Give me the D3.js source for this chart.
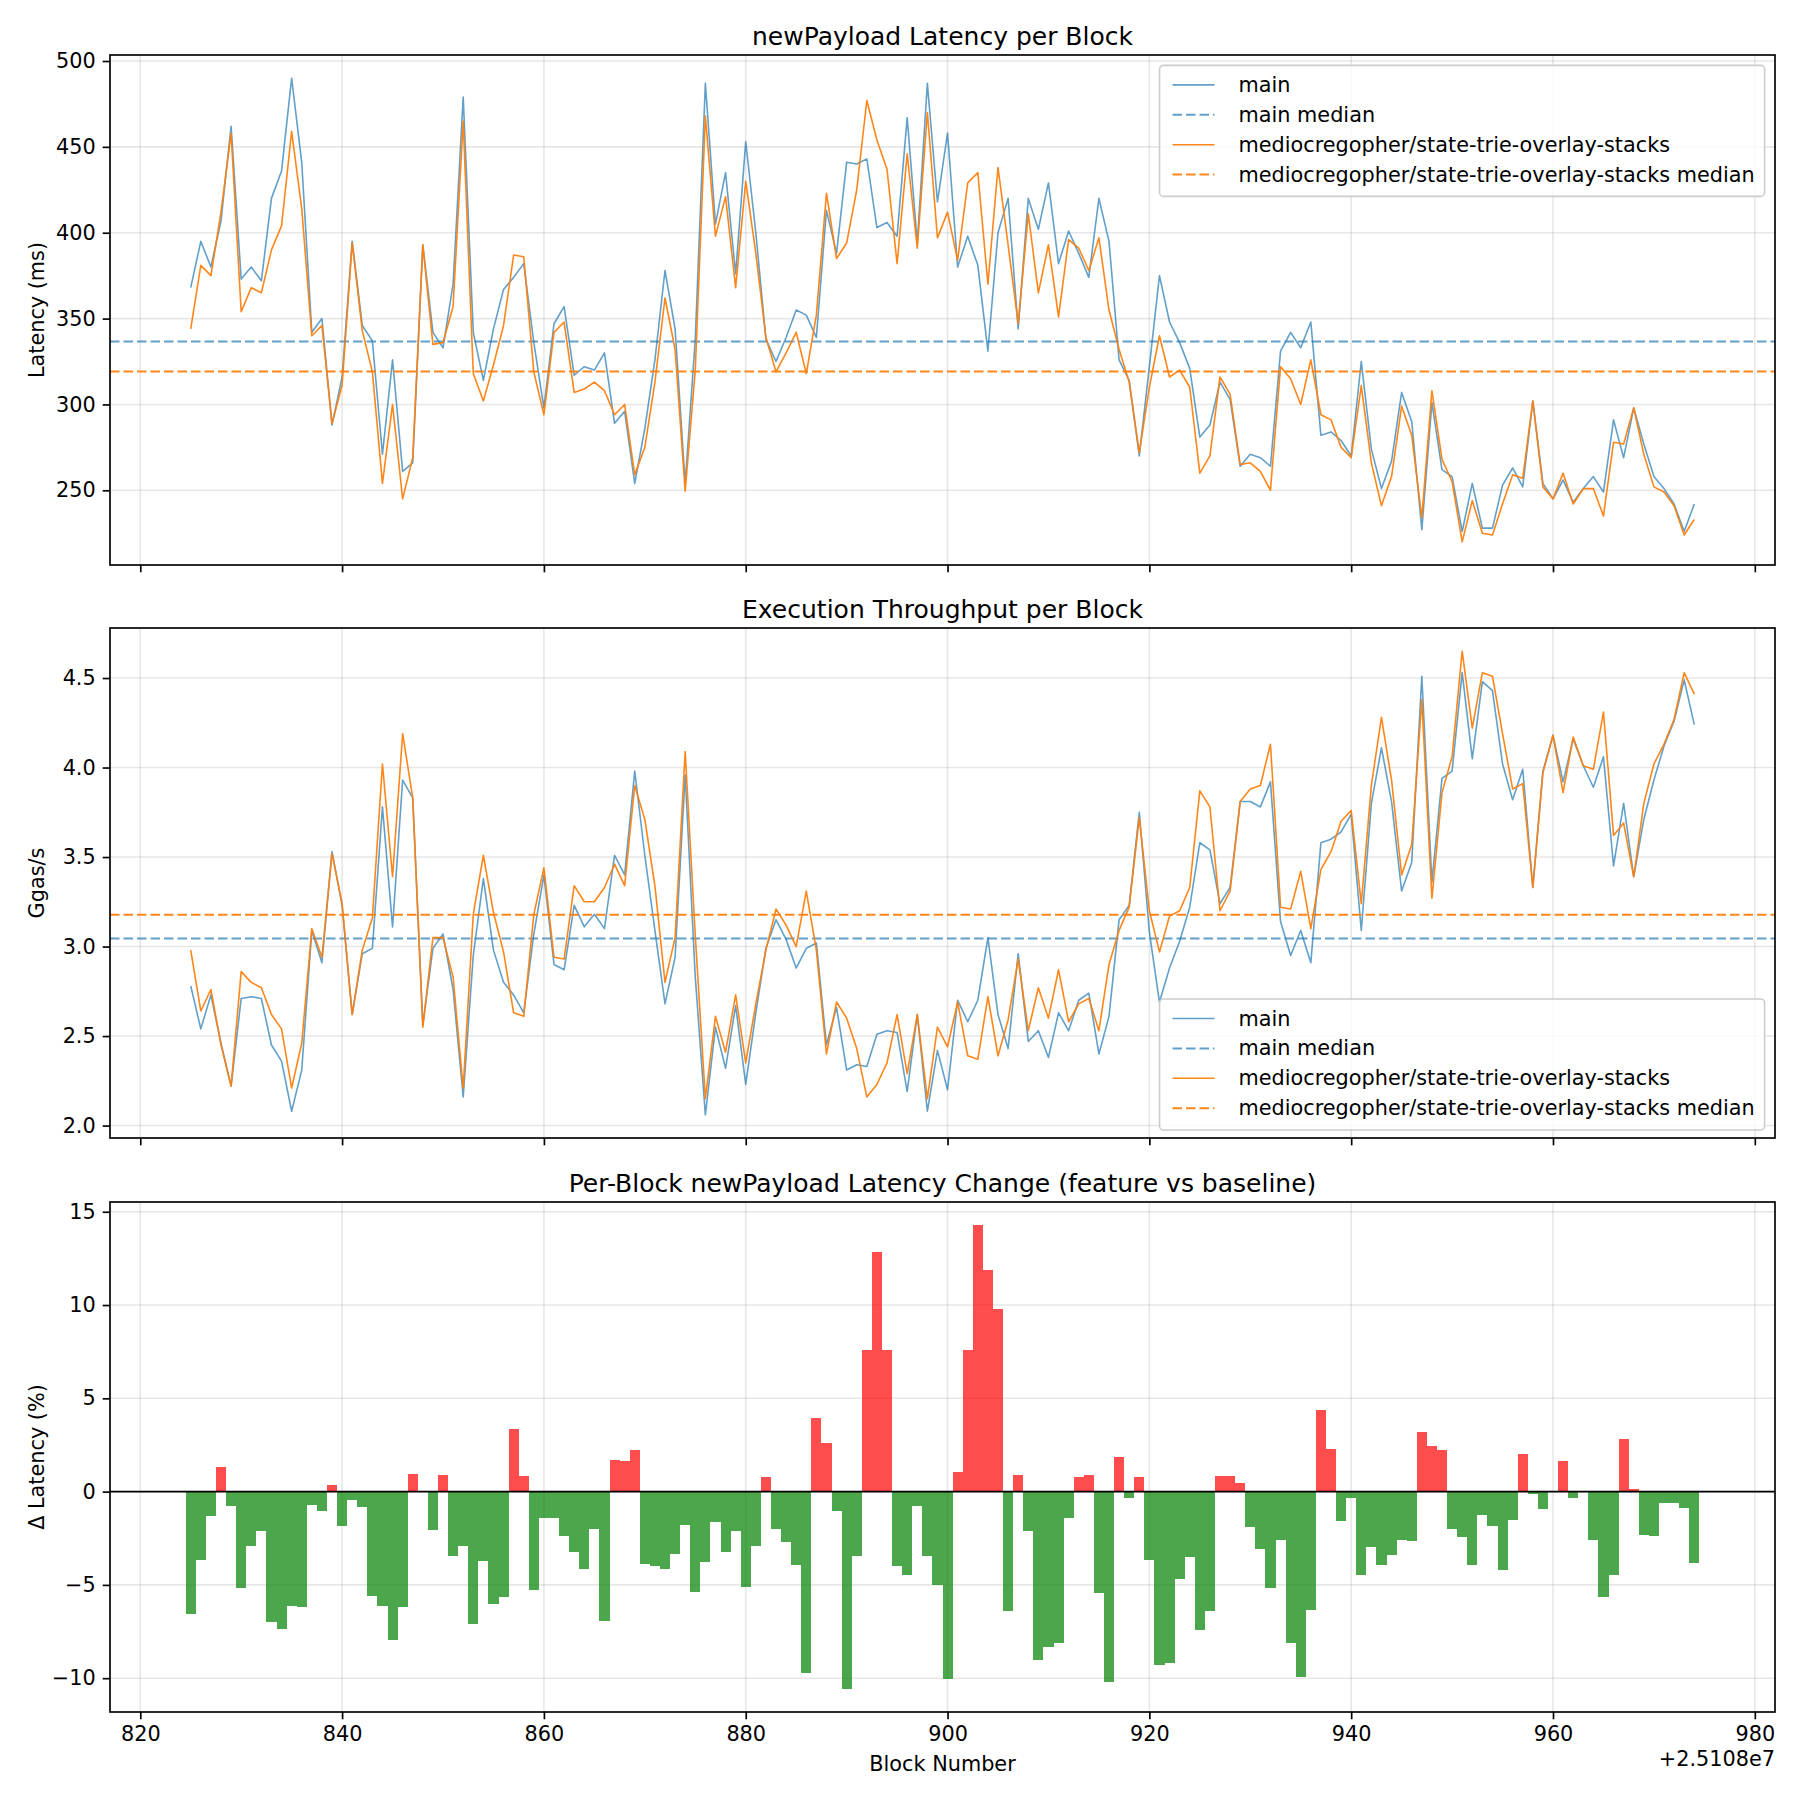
<!DOCTYPE html>
<html>
<head>
<meta charset="utf-8">
<script src="https://cdn.jsdelivr.net/npm/d3@7"></script>
<style>
  body { margin: 0; background: #fff; }
  svg { font-family: "DejaVu Sans", sans-serif; }
</style>
</head>
<body>
<div id="chart"></div>
<script>
// block numbers (x offset shown as +2.5108e7 like the original)
const blockOffset = 25108000;
const blocks = d3.range(25108825, 25108975);

// newPayload latency per block (ms)
const mainLatency = [368,395,380,407,462,373,380,372,420,436,490,441,342,350,288,316,395,346,337,271,
  326,261,266,393,342,333,370,479,342,314,344,367,374,382,336,298,347,357,317,322,
  320,330,289,296,254,286,326,378,344,254,338,487,405,435,376,453,400,338,325,339,
  355,352,339,413,388,441,440,443,403,406,398,467,394,487,418,458,380,398,381,331,
  400,420,344,420,402,429,382,401,388,374,420,395,326,314,270,322,375,348,336,321,
  281,288,313,303,264,271,269,264,331,342,333,348,282,284,279,270,325,274,251,267,
  307,290,227,301,262,258,226,254,228,228,253,263,252,302,254,245,256,243,251,258,
  249,291,269,298,277,258,251,242,226,242];
const featureLatency = [344,381,375,412,458,354,368,365,390,404,459,414,340,346,289,311,394,343,319,254,
  300,245,269,393,335,336,357,465,318,302,323,346,387,386,319,294,342,348,307,309,
  313,308,294,300,259,275,313,362,332,249.5,320,468,398,421,368,430,388,339,319,330,
  342,318,352,423,385,394,425,477,454,437,382,446,391,470,397,412,384,429,435,370,
  438,393,347,411,365,393,351,396,391,378,397,355,332,313,272,310,340,316,320,310,
  260,270,316,306,265,266,261,250,322,315,300,326,294,291,275,269,311,266,241,258,
  299,282,234,308,268,255,220,244,225,224,242,259,257,302,252,245,260,242,251,251,
  235,278,277,298,271,252,249,241,224,233];
const mainLatencyMedian = 336.6;
const featureLatencyMedian = 319.2;

// execution throughput per block (Ggas/s)
const mainThroughput = [2.78,2.54,2.73,2.46,2.22,2.71,2.72,2.71,2.45,2.36,2.08,2.31,3.09,2.91,3.53,3.23,2.62,2.96,2.99,3.78,
  3.11,3.93,3.83,2.56,2.99,3.07,2.76,2.16,2.95,3.38,2.98,2.80,2.73,2.63,3.07,3.40,2.90,2.87,3.23,3.11,
  3.18,3.10,3.51,3.40,3.98,3.51,3.09,2.68,2.94,3.96,2.83,2.06,2.55,2.32,2.67,2.23,2.63,2.99,3.15,3.04,
  2.88,2.99,3.02,2.45,2.66,2.31,2.34,2.33,2.51,2.53,2.52,2.19,2.62,2.08,2.42,2.20,2.70,2.58,2.70,3.05,
  2.62,2.43,2.96,2.47,2.53,2.38,2.63,2.53,2.70,2.74,2.40,2.61,3.15,3.23,3.75,3.08,2.69,2.88,3.03,3.22,
  3.58,3.54,3.24,3.33,3.81,3.81,3.78,3.92,3.14,2.95,3.09,2.91,3.58,3.60,3.64,3.74,3.09,3.80,4.11,3.81,
  3.31,3.47,4.51,3.36,3.94,3.98,4.53,4.05,4.48,4.43,4.02,3.82,3.99,3.33,3.98,4.18,3.92,4.16,4.01,3.89,
  4.06,3.45,3.80,3.39,3.71,3.93,4.12,4.26,4.49,4.24];
const featureThroughput = [2.98,2.64,2.76,2.45,2.22,2.86,2.80,2.77,2.62,2.54,2.21,2.46,3.10,2.94,3.52,3.24,2.62,2.98,3.16,4.02,
  3.39,4.19,3.83,2.55,3.05,3.05,2.83,2.21,3.18,3.51,3.19,2.97,2.63,2.61,3.18,3.44,2.94,2.93,3.34,3.25,
  3.25,3.33,3.46,3.34,3.90,3.71,3.34,2.80,3.05,4.09,3.06,2.15,2.61,2.41,2.73,2.35,2.68,2.98,3.21,3.12,
  3.00,3.31,2.98,2.40,2.69,2.60,2.43,2.16,2.23,2.35,2.62,2.29,2.62,2.15,2.55,2.44,2.69,2.39,2.37,2.72,
  2.39,2.59,2.93,2.53,2.77,2.60,2.87,2.58,2.68,2.71,2.53,2.90,3.09,3.22,3.72,3.20,2.97,3.17,3.20,3.33,
  3.87,3.78,3.20,3.31,3.81,3.88,3.90,4.13,3.22,3.21,3.42,3.10,3.43,3.53,3.70,3.76,3.24,3.90,4.28,3.93,
  3.40,3.57,4.38,3.27,3.86,4.06,4.65,4.22,4.53,4.51,4.19,3.88,3.91,3.33,3.97,4.18,3.86,4.17,4.01,3.99,
  4.31,3.62,3.69,3.39,3.80,4.02,4.13,4.27,4.53,4.41];
const mainThroughputMedian = 3.045;
const featureThroughputMedian = 3.177;

// per-block latency change (%)
const latencyChange = [-6.55,-3.69,-1.29,1.34,-0.79,-5.19,-2.90,-2.09,-7.01,-7.35,-6.15,-6.21,-0.70,-1.06,0.38,-1.82,-0.43,-0.84,-5.62,-6.12,
  -7.98,-6.21,0.97,0.0,-2.08,0.91,-3.47,-2.93,-7.08,-3.70,-6.05,-5.67,3.38,0.86,-5.26,-1.41,-1.41,-2.40,-3.26,-4.17,
  -2.00,-6.91,1.72,1.66,2.25,-3.86,-4.01,-4.17,-3.33,-1.77,-5.37,-3.79,-1.61,-3.26,-2.09,-5.13,-2.90,0.80,-1.99,-2.72,
  -3.92,-9.70,3.95,2.58,-1.02,-10.57,-3.47,7.60,12.83,7.60,-4.01,-4.45,-0.75,-3.47,-5.03,-10.04,1.07,7.60,14.28,11.86,
  9.77,-6.42,0.91,-2.13,-9.05,-8.35,-8.09,-1.43,0.77,0.91,-5.46,-10.18,1.84,-0.36,0.77,-3.69,-9.32,-9.21,-4.69,-3.52,
  -7.44,-6.42,0.86,0.86,0.48,-1.91,-3.09,-5.19,-2.61,-8.14,-9.91,-6.33,4.40,2.31,-1.59,-0.36,-4.49,-2.95,-3.95,-3.38,
  -2.58,-2.67,3.22,2.47,2.25,-1.99,-2.45,-3.95,-1.23,-1.82,-4.22,-1.50,2.04,-0.13,-0.95,0.0,1.66,-0.36,0.0,-2.58,
  -5.67,-4.49,2.84,0.16,-2.34,-2.40,-0.63,-0.63,-0.89,-3.85];

// tick labels
const xTicks = d3.range(25108820, 25108981, 20);
const latencyTicks = [250, 300, 350, 400, 450, 500];
const throughputTicks = [2.0, 2.5, 3.0, 3.5, 4.0, 4.5];
const changeTicks = [-10, -5, 0, 5, 10, 15];

const seriesNames = ["main", "mediocregopher/state-trie-overlay-stacks"];
const blue = "#1f77b4", orange = "#ff7f0e";

const W = 1800, H = 1800;
const left = 110, right = 1775, panelH = 510;
const panelTops = [55, 628, 1202];
const fontSize = 20.8, titleSize = 25;

const svg = d3.select("#chart").append("svg")
    .attr("width", W)
    .attr("height", H);

svg.append("rect").attr("width", W).attr("height", H).attr("fill", "#fff");

// matplotlib style 5% margins
function padded(lo, hi) {
    let p = (hi - lo) * 0.05;
    return [lo - p, hi + p];
}

const x = d3.scaleLinear()
    .domain(padded(d3.min(blocks) - 0.5, d3.max(blocks) + 0.5))
    .range([left, right]);

const minus = d => (d < 0 ? "\u2212" + Math.abs(d) : "" + d);

function makePanel(top, y, yTicks, yFmt, title, ylabel, showXLabels) {
    let g = svg.append("g");
    let bottom = top + panelH;

    // grid
    g.append("g").selectAll("line").data(xTicks).enter().append("line")
        .attr("x1", d => x(d)).attr("x2", d => x(d))
        .attr("y1", top).attr("y2", bottom)
        .attr("stroke", "#b0b0b0").attr("stroke-opacity", 0.3).attr("stroke-width", 1.6);
    g.append("g").selectAll("line").data(yTicks).enter().append("line")
        .attr("x1", left).attr("x2", right)
        .attr("y1", d => y(d)).attr("y2", d => y(d))
        .attr("stroke", "#b0b0b0").attr("stroke-opacity", 0.3).attr("stroke-width", 1.6);

    let plot = g.append("g");

    // y axis
    let yAxis = d3.axisLeft(y).tickValues(yTicks).tickFormat(yFmt)
        .tickSize(7.3).tickPadding(7).tickSizeOuter(0);
    let ya = g.append("g").attr("transform", `translate(${left},0)`).call(yAxis);
    ya.select(".domain").remove();
    ya.selectAll("line").attr("stroke", "#000").attr("stroke-width", 1.67);
    ya.selectAll("text").attr("font-size", fontSize).attr("fill", "#000")
        .attr("font-family", "DejaVu Sans");

    // x axis
    let xAxis = d3.axisBottom(x).tickValues(xTicks).tickFormat(d => showXLabels ? (d - blockOffset) : "")
        .tickSize(7.3).tickPadding(7).tickSizeOuter(0);
    let xa = g.append("g").attr("transform", `translate(0,${bottom})`).call(xAxis);
    xa.select(".domain").remove();
    xa.selectAll("line").attr("stroke", "#000").attr("stroke-width", 1.67);
    xa.selectAll("text").attr("font-size", fontSize).attr("fill", "#000")
        .attr("font-family", "DejaVu Sans");

    // spines
    g.append("rect")
        .attr("x", left).attr("y", top)
        .attr("width", right - left).attr("height", panelH)
        .attr("fill", "none").attr("stroke", "#000").attr("stroke-width", 1.67);

    g.append("text")
        .attr("x", (left + right) / 2).attr("y", top - 10)
        .attr("text-anchor", "middle")
        .attr("font-size", titleSize)
        .text(title);

    g.append("text")
        .attr("transform", `translate(37,${top + panelH / 2}) rotate(-90)`)
        .attr("text-anchor", "middle")
        .attr("dominant-baseline", "central")
        .attr("font-size", fontSize)
        .text(ylabel);

    return plot;
}

function drawLines(plot, y, mainVals, featVals, mainMed, featMed) {
    let line = d3.line()
        .x((d, i) => x(blocks[i]))
        .y(d => y(d));

    plot.append("path").datum(mainVals)
        .attr("d", line).attr("fill", "none")
        .attr("stroke", blue).attr("stroke-opacity", 0.7).attr("stroke-width", 1.6)
        .attr("stroke-linejoin", "round");
    plot.append("line")
        .attr("x1", left).attr("x2", right)
        .attr("y1", y(mainMed)).attr("y2", y(mainMed))
        .attr("stroke", blue).attr("stroke-opacity", 0.7).attr("stroke-width", 2)
        .attr("stroke-dasharray", "9.5,4");
    plot.append("path").datum(featVals)
        .attr("d", line).attr("fill", "none")
        .attr("stroke", orange).attr("stroke-opacity", 0.95).attr("stroke-width", 1.6)
        .attr("stroke-linejoin", "round");
    plot.append("line")
        .attr("x1", left).attr("x2", right)
        .attr("y1", y(featMed)).attr("y2", y(featMed))
        .attr("stroke", orange).attr("stroke-opacity", 0.95).attr("stroke-width", 2)
        .attr("stroke-dasharray", "9.5,4");
}

function drawLegend(boxTop) {
    let labels = [seriesNames[0], seriesNames[0] + " median", seriesNames[1], seriesNames[1] + " median"];
    let styles = [[blue, 0.7, null], [blue, 0.7, "9.5,4"], [orange, 0.95, null], [orange, 0.95, "9.5,4"]];
    let g = svg.append("g");
    let box = g.append("rect");
    let texts = [];
    labels.forEach((lab, i) => {
        let t = g.append("text")
            .attr("y", boxTop + 19.5 + i * 29.9)
            .attr("dominant-baseline", "central")
            .attr("font-size", fontSize)
            .text(lab);
        texts.push(t);
    });
    let textW = d3.max(texts, t => t.node().getComputedTextLength());
    let boxW = 13 + 42 + 24 + textW + 10;
    let boxX = right - 10.4 - boxW;
    box.attr("x", boxX).attr("y", boxTop)
        .attr("width", boxW).attr("height", 131)
        .attr("rx", 4).attr("ry", 4)
        .attr("fill", "#fff").attr("fill-opacity", 0.8)
        .attr("stroke", "#cccccc").attr("stroke-width", 1.6);
    texts.forEach((t, i) => {
        t.attr("x", boxX + 79);
        let yy = boxTop + 19.5 + i * 29.9;
        g.append("line")
            .attr("x1", boxX + 13).attr("x2", boxX + 55)
            .attr("y1", yy).attr("y2", yy)
            .attr("stroke", styles[i][0]).attr("stroke-opacity", styles[i][1])
            .attr("stroke-width", styles[i][2] ? 2 : 1.6)
            .attr("stroke-dasharray", styles[i][2]);
    });
}

// panel 1: latency
let yLat = d3.scaleLinear()
    .domain(padded(d3.min(mainLatency.concat(featureLatency)), d3.max(mainLatency.concat(featureLatency))))
    .range([panelTops[0] + panelH, panelTops[0]]);
let p1 = makePanel(panelTops[0], yLat, latencyTicks, d => d, "newPayload Latency per Block", "Latency (ms)", false);
drawLines(p1, yLat, mainLatency, featureLatency, mainLatencyMedian, featureLatencyMedian);
drawLegend(panelTops[0] + 10.4);

// panel 2: throughput
let yTp = d3.scaleLinear()
    .domain(padded(d3.min(mainThroughput.concat(featureThroughput)), d3.max(mainThroughput.concat(featureThroughput))))
    .range([panelTops[1] + panelH, panelTops[1]]);
let p2 = makePanel(panelTops[1], yTp, throughputTicks, d3.format(".1f"), "Execution Throughput per Block", "Ggas/s", false);
drawLines(p2, yTp, mainThroughput, featureThroughput, mainThroughputMedian, featureThroughputMedian);
drawLegend(panelTops[1] + panelH - 8 - 131);

// panel 3: latency change bars
let yCh = d3.scaleLinear()
    .domain(padded(Math.min(0, d3.min(latencyChange)), Math.max(0, d3.max(latencyChange))))
    .range([panelTops[2] + panelH, panelTops[2]]);
let p3 = makePanel(panelTops[2], yCh, changeTicks, minus, "Per-Block newPayload Latency Change (feature vs baseline)", "\u0394 Latency (%)", true);

p3.selectAll("rect").data(latencyChange).enter().append("rect")
    .attr("x", (d, i) => x(blocks[i] - 0.5))
    .attr("width", (d, i) => x(blocks[i] + 0.5) - x(blocks[i] - 0.5))
    .attr("y", d => yCh(Math.max(0, d)))
    .attr("height", d => Math.abs(yCh(d) - yCh(0)))
    .attr("fill", d => d > 0 ? "red" : "green")
    .attr("fill-opacity", 0.7)
    .attr("shape-rendering", "crispEdges");

p3.append("line")
    .attr("x1", left).attr("x2", right)
    .attr("y1", yCh(0)).attr("y2", yCh(0))
    .attr("stroke", "#000").attr("stroke-width", 1.6);

svg.append("text")
    .attr("x", (left + right) / 2).attr("y", 1771)
    .attr("text-anchor", "middle")
    .attr("font-size", fontSize)
    .text("Block Number");

svg.append("text")
    .attr("x", right).attr("y", 1766)
    .attr("text-anchor", "end")
    .attr("font-size", fontSize)
    .text("+2.5108e7");
</script>
</body>
</html>
